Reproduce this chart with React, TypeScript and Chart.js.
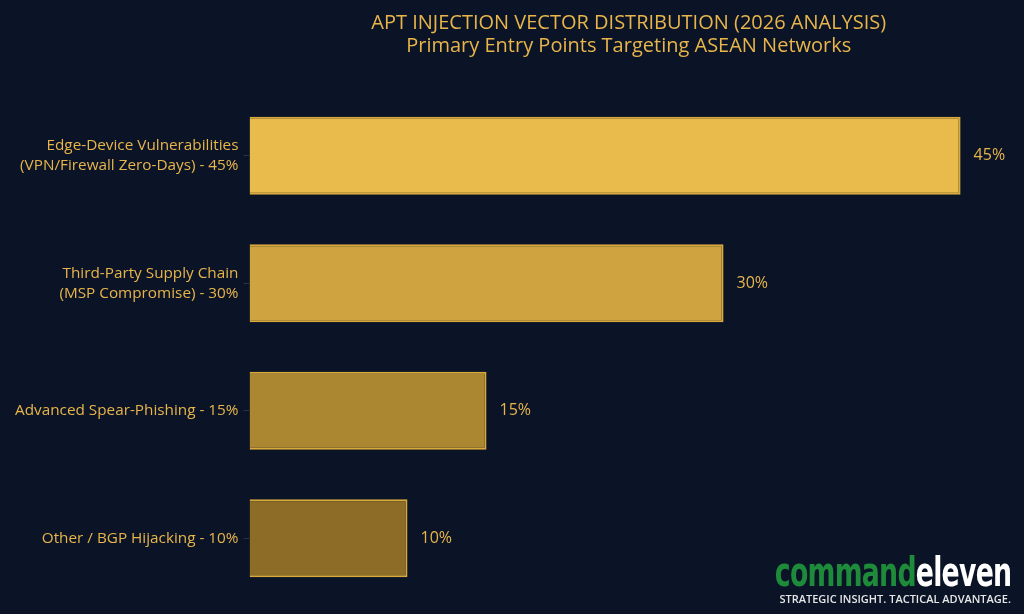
import React, { useEffect, useRef } from "react";
import { Chart, registerables } from "chart.js";

Chart.register(...registerables);

const categories: string[][] = [
  ["Edge-Device Vulnerabilities", "(VPN/Firewall Zero-Days) - 45%"],
  ["Third-Party Supply Chain", "(MSP Compromise) - 30%"],
  ["Advanced Spear-Phishing - 15%"],
  ["Other / BGP Hijacking - 10%"],
];
const values: number[] = [45, 30, 15, 10];
const barColors: string[] = ["#E9BA4C", "#CFA33F", "#AC8731", "#8C6C27"];
const borderColors: string[] = ["#D9A93C", "#D9A93C", "#D9A93C", "#D9A93C"];
const titleLines: string[] = [
  "APT INJECTION VECTOR DISTRIBUTION (2026 ANALYSIS)",
  "Primary Entry Points Targeting ASEAN Networks",
];

const GOLD = "#E8B54A";
const BG = "#0B1427";
const FONT = "'Open Sans', 'Noto Sans', sans-serif";

const valueLabels = {
  id: "valueLabels",
  afterDatasetsDraw(chart: any) {
    const ctx = chart.ctx;
    const meta = chart.getDatasetMeta(0);
    ctx.save();
    ctx.fillStyle = GOLD;
    ctx.font = `16px ${FONT}`;
    ctx.textAlign = "left";
    ctx.textBaseline = "middle";
    meta.data.forEach((bar: any, i: number) => {
      ctx.fillText(values[i] + "%", bar.x + 13, bar.y);
    });
    ctx.restore();
  },
};

const bgPlugin = {
  id: "bgFill",
  beforeDraw(chart: any) {
    const ctx = chart.ctx;
    ctx.save();
    ctx.fillStyle = BG;
    ctx.fillRect(0, 0, chart.width, chart.height);
    ctx.restore();
  },
};

export default function App() {
  const ref = useRef<HTMLCanvasElement | null>(null);
  useEffect(() => {
    document.body.style.margin = "0";
    document.body.style.background = BG;
    const chart = new Chart(ref.current as HTMLCanvasElement, {
      type: "bar",
      data: {
        labels: categories,
        datasets: [
          {
            data: values,
            backgroundColor: barColors,
            borderColor: borderColors,
            borderWidth: 2,
            barPercentage: 0.61,
            categoryPercentage: 1,
          },
        ],
      },
      options: {
        indexAxis: "y",
        animation: false,
        responsive: false,
        maintainAspectRatio: false,
        layout: { padding: { left: 10, right: 16, top: 4, bottom: 12 } },
        plugins: {
          legend: { display: false },
          tooltip: { enabled: false },
          title: {
            display: true,
            text: titleLines,
            color: GOLD,
            fullSize: false,
            font: { family: FONT, size: 20, weight: "normal", lineHeight: 1.15 },
            padding: { top: 8, bottom: 34 },
          },
        },
        scales: {
          x: {
            display: false,
            min: 0,
            max: 48,
          },
          y: {
            afterFit: (scale: any) => {
              scale.paddingTop = 0;
              scale.paddingBottom = 0;
            },
            grid: {
              display: true,
              offset: false,
              drawOnChartArea: false,
              drawTicks: true,
              tickLength: 6,
              color: "#2A3344",
            },
            border: { display: false },
            ticks: {
              color: GOLD,
              font: { family: FONT, size: 15.3, lineHeight: 1.3 },
              padding: 5,
            },
          },
        },
      },
      plugins: [bgPlugin, valueLabels],
    });
    return () => chart.destroy();
  }, []);

  return (
    <div style={{ position: "relative", width: 1024, height: 614, background: BG, overflow: "hidden" }}>
      <canvas ref={ref} width={1024} height={614} style={{ display: "block" }} />
      <div
        style={{
          position: "absolute",
          right: 13,
          top: 552,
          textAlign: "right",
          lineHeight: 1,
        }}
      >
        <div
          style={{
            fontFamily: "'DejaVu Sans Condensed', 'Liberation Sans Narrow', sans-serif",
            fontWeight: 700,
            fontStretch: "condensed",
            fontSize: 40,
            letterSpacing: -1,
            transform: "scaleX(0.743)",
            transformOrigin: "right",
          }}
        >
          <span style={{ color: "#1E8B3A" }}>command</span>
          <span style={{ color: "#FFFFFF" }}>eleven</span>
        </div>
        <div
          style={{
            fontFamily: "'Open Sans', sans-serif",
            fontSize: 11,
            fontWeight: 600,
            color: "#E6E6E6",
            marginTop: 1,
            letterSpacing: 0,
          }}
        >
          STRATEGIC INSIGHT. TACTICAL ADVANTAGE.
        </div>
      </div>
    </div>
  );
}
